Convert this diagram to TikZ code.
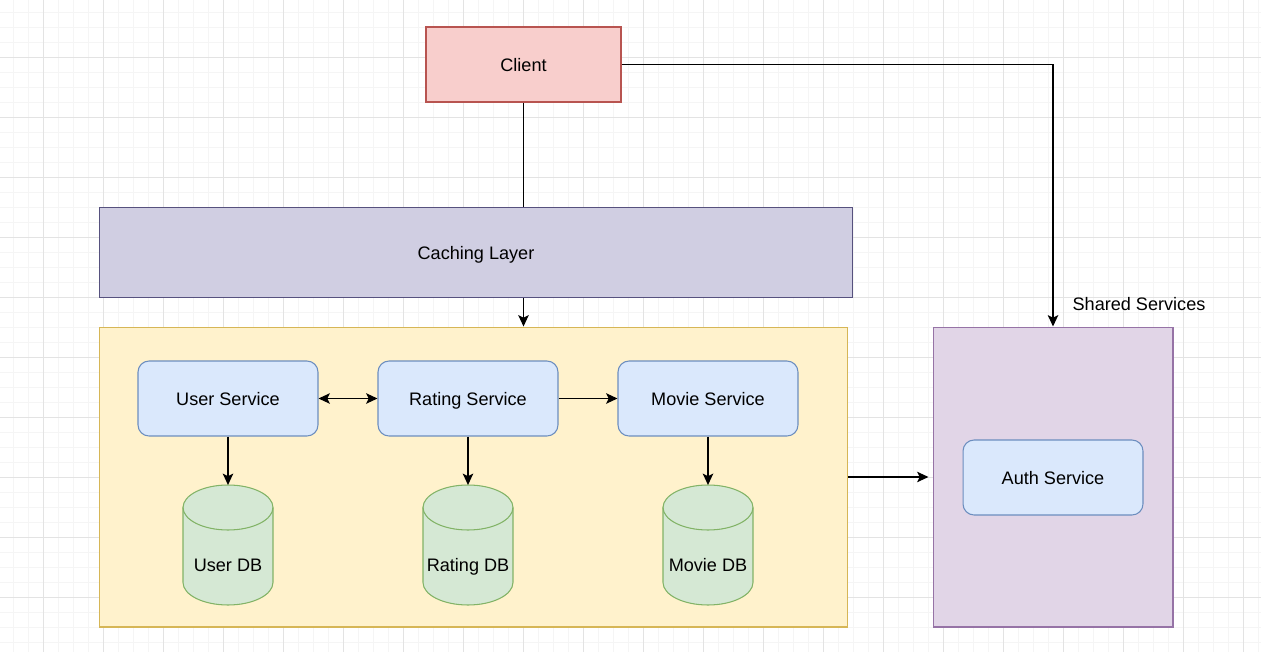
\documentclass[tikz,border=0pt]{standalone}
\usepackage{fontspec}
\setmainfont{Liberation Sans}
\usetikzlibrary{arrows.meta}
\definecolor{clientfill}{HTML}{F8CECC}
\definecolor{clientline}{HTML}{B85450}
\definecolor{cachefill}{HTML}{D0CEE2}
\definecolor{cacheline}{HTML}{56517E}
\definecolor{groupfill}{HTML}{FFF2CC}
\definecolor{groupline}{HTML}{D6B656}
\definecolor{svcfill}{HTML}{DAE8FC}
\definecolor{svcline}{HTML}{6C8EBF}
\definecolor{dbfill}{HTML}{D5E8D4}
\definecolor{dbline}{HTML}{82B366}
\definecolor{sharedfill}{HTML}{E1D5E7}
\definecolor{sharedline}{HTML}{9673A6}
\tikzstyle{minorgrid}=[draw=black!4, line width=0.5pt]
\tikzstyle{majorgrid}=[draw=black!11, line width=0.5pt]
\tikzstyle{txt}=[inner sep=0pt, text height=7.4pt, text depth=0pt, font=\fontsize{10.3}{12}\selectfont]
\tikzstyle{box}=[txt, draw, line width=0.6pt]
\tikzstyle{client}=[box, fill=clientfill, draw=clientline, minimum width=3.9cm, minimum height=1.5cm]
\tikzstyle{cache}=[box, fill=cachefill, draw=cacheline, minimum width=15.08cm, minimum height=1.8cm]
\tikzstyle{group}=[box, fill=groupfill, draw=groupline, minimum width=14.98cm, minimum height=6cm]
\tikzstyle{shared}=[box, fill=sharedfill, draw=sharedline, minimum width=4.8cm, minimum height=6cm]
\tikzstyle{svc}=[box, rounded corners=0.22cm, fill=svcfill, draw=svcline, minimum width=3.6cm, minimum height=1.5cm]
\tikzstyle{dbshape}=[fill=dbfill, draw=dbline, line width=0.6pt]
\tikzstyle{edge}=[line width=0.75pt, ->]
\tikzstyle{line}=[line width=0.75pt]
\tikzset{>={Stealth[length=6.5pt, width=6pt, inset=1.5pt]}}
% cylinder for a database, centred at (#1,#2)
\newcommand{\dbcyl}[2]{%
	\filldraw[dbshape] (#1-45,#2-37.5) -- (#1-45,#2+37.5)
		arc[start angle=180, end angle=360, x radius=0.9cm, y radius=0.45cm]
		-- (#1+45,#2-37.5)
		arc[start angle=0, end angle=180, x radius=0.9cm, y radius=0.45cm] -- cycle;
	\draw[dbshape, fill=none] (#1-45,#2-37.5)
		arc[start angle=180, end angle=360, x radius=0.9cm, y radius=0.45cm];}

\begin{document}
\begin{tikzpicture}[x=0.02cm, y=-0.02cm]
	\useasboundingbox (0,0) rectangle (1261,652);
	% grid
	\foreach \x in {13,28,...,1258} \draw[minorgrid] (\x,0) -- (\x,652);
	\foreach \y in {12,27,...,642} \draw[minorgrid] (0,\y) -- (1261,\y);
	\foreach \x in {43,103,...,1243} \draw[majorgrid] (\x,0) -- (\x,652);
	\foreach \y in {57,117,...,597} \draw[majorgrid] (0,\y) -- (1261,\y);
	% boxes
	\node[client] (client) at (523.5,64.5) {Client};
	\node[cache] (cache) at (476,252.5) {Caching Layer};
	\node[group] (group) at (473.5,477) {};
	\node[shared] (shared) at (1053,477) {};
	\node[txt] (sharedlabel) at (1139,304) {Shared Services};
	\node[svc] (usersvc) at (228,398.5) {User Service};
	\node[svc] (ratingsvc) at (468,398.5) {Rating Service};
	\node[svc] (moviesvc) at (708,398.5) {Movie Service};
	\node[svc] (authsvc) at (1053,477.5) {Auth Service};
	% databases
	\foreach \x/\n/\t in {228/user/User DB, 468/rating/Rating DB, 708/movie/Movie DB} {
		\dbcyl{\x}{545}
		\coordinate (\n dbtop) at (\x,485);
		\node[txt] (\n db) at (\x,565) {\t};
	}
	% connectors
	\draw[line] (client.south) -- (client.south |- cache.north);
	\draw[edge] (client.south |- cache.south) -- (client.south |- group.north);
	\draw[edge] (client.east) -| (shared.north);
	\draw[edge, <->] (usersvc) -- (ratingsvc);
	\draw[edge] (ratingsvc) -- (moviesvc);
	\draw[edge] (usersvc) -- (userdbtop);
	\draw[edge] (ratingsvc) -- (ratingdbtop);
	\draw[edge] (moviesvc) -- (moviedbtop);
	\draw[edge, shorten >=2.3pt] (group.east) -- (shared.west);
\end{tikzpicture}
\end{document}
